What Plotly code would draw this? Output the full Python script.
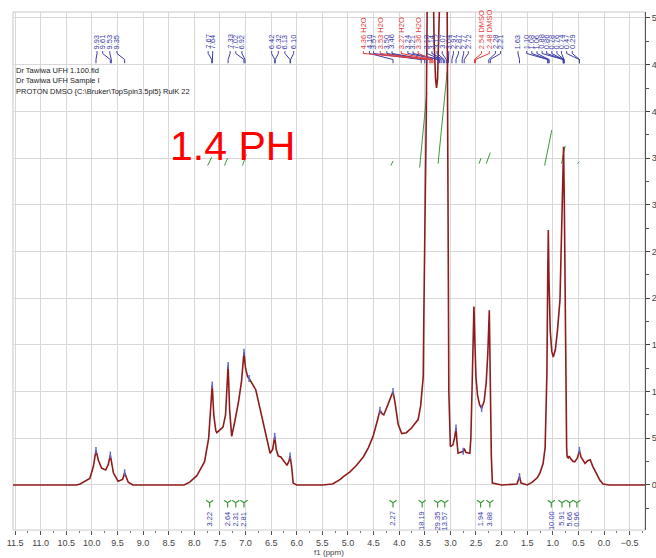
import plotly.graph_objects as go

# ---------------- data ----------------
ppm = [11.54, 10.30, 10.23, 10.10, 10.04, 9.97, 9.92, 9.87, 9.81, 9.73, 9.68, 9.64, 9.60, 9.58, 9.49, 9.40, 9.36, 9.32, 9.29, 9.20,
       8.20, 8.09, 7.95, 7.89, 7.80, 7.72, 7.68, 7.65, 7.62, 7.58, 7.56, 7.50, 7.44, 7.39, 7.36, 7.34, 7.31, 7.27, 7.22, 7.14,
       7.08, 7.05, 7.03, 7.00, 6.96, 6.93, 6.87, 6.80, 6.73, 6.65, 6.58, 6.52, 6.47, 6.43, 6.40, 6.36, 6.31, 6.27, 6.19, 6.15,
       6.13, 6.10, 6.07, 6.00, 5.50, 5.30, 5.15, 5.09, 4.96, 4.85, 4.70, 4.60, 4.51, 4.43, 4.375, 4.33, 4.30, 4.22, 4.15, 4.12,
       4.08, 4.02, 3.95, 3.86, 3.76, 3.68, 3.63, 3.58, 3.55, 3.53, 3.52, 3.50, 3.47, 3.44, 3.40, 3.36, 3.32, 3.29, 3.27, 3.25,
       3.22, 3.18, 3.10, 3.07, 3.05, 3.03, 3.00, 2.95, 2.92, 2.89, 2.87, 2.85, 2.80, 2.75, 2.73, 2.70, 2.62, 2.60, 2.58, 2.56,
       2.54, 2.52, 2.50, 2.47, 2.43, 2.39, 2.34, 2.30, 2.27, 2.24, 2.22, 2.20, 2.18, 2.00, 1.70, 1.65, 1.62, 1.50, 1.40, 1.30,
       1.25, 1.19, 1.15, 1.13, 1.115, 1.10, 1.088, 1.075, 1.05, 1.02, 0.99, 0.95, 0.91, 0.86, 0.83, 0.80, 0.79, 0.775, 0.76, 0.745,
       0.73, 0.72, 0.70, 0.68, 0.65, 0.60, 0.57, 0.52, 0.48, 0.45, 0.40, 0.37, 0.32, 0.27, 0.22, 0.15, 0.08, 0.02, -0.10, -0.80]
intensity = [0.0, 0.0, 0.1, 0.5, 0.7, 2.0, 3.7, 2.6, 1.8, 1.6, 2.2, 3.2, 2.0, 1.3, 0.4, 0.6, 1.3, 0.6, 0.3, 0.0,
             0.0, 0.3, 1.0, 1.6, 2.5, 5.0, 9.0, 10.7, 7.5, 5.8, 5.6, 5.9, 6.2, 7.5, 10.5, 12.8, 8.0, 5.2, 6.5, 8.8,
             11.0, 13.0, 14.2, 12.5, 11.6, 11.4, 10.8, 10.2, 8.5, 6.6, 4.8, 3.4, 3.8, 5.2, 3.8, 3.1, 3.0, 2.7, 2.1, 2.6,
             3.1, 2.0, 0.2, 0.0, 0.0, 0.1, 0.6, 0.9, 1.4, 2.0, 3.0, 4.0, 5.2, 6.8, 8.0, 7.6, 7.5, 8.6, 9.6, 10.0,
             8.8, 6.5, 5.5, 5.6, 6.1, 6.6, 7.0, 8.5, 10.5, 11.6, 17.3, 25.2, 40.0, 60.0, 70.0, 65.0, 48.0, 43.5, 42.5, 43.5,
             52.0, 70.0, 75.0, 60.0, 30.0, 10.0, 4.1, 4.3, 5.0, 6.1, 4.5, 3.4, 3.5, 3.6, 3.9, 3.5, 3.4, 5.0, 9.5, 14.0,
             19.1, 15.0, 11.5, 9.6, 8.6, 8.2, 9.0, 11.0, 14.0, 18.7, 10.0, 3.0, 0.2, 0.0, 0.1, 0.9, 0.2, 0.0, 0.3, 0.8,
             1.3, 2.3, 4.0, 8.0, 12.0, 22.0, 27.3, 22.0, 16.5, 14.3, 13.7, 14.5, 16.5, 19.8, 27.6, 34.5, 36.2, 30.0, 18.0, 8.0,
             4.0, 3.0, 2.9, 3.1, 2.8, 2.5, 2.5, 2.9, 3.7, 3.0, 2.6, 2.3, 2.6, 2.7, 2.0, 1.2, 0.5, 0.1, 0.0, 0.0]

# peak labels at the top: text, where the text sits (ppm), peak it points to (ppm), colour
top_text = ["9.93", "9.61", "9.53", "9.35",
            "7.67", "7.64", "7.33", "7.02", "6.92",
            "6.42", "6.32", "6.13", "6.10",
            "4.36 H2O", "4.10", "3.57", "3.53 H2O", "3.50", "3.46", "3.27 H2O", "3.24", "3.21", "3.36 H2O",
            "3.18", "3.14", "3.12", "3.07", "3.04", "2.97", "2.87", "2.77", "2.72",
            "2.54 DMSO", "2.48 DMSO", "2.28", "2.21", "1.63",
            "1.10", "1.08", "1.06", "0.88", "0.86", "0.78", "0.76", "0.74", "0.47", "0.29"]
top_pos = [9.90, 9.79, 9.65, 9.51,
           7.73, 7.64, 7.30, 7.19, 7.07,
           6.49, 6.36, 6.23, 6.06,
           4.70, 4.58, 4.50, 4.37, 4.24, 4.14, 3.96, 3.83, 3.73, 3.63,
           3.46, 3.36, 3.26, 3.16, 3.03, 2.94, 2.84, 2.74, 2.65,
           2.39, 2.24, 2.12, 2.02, 1.68,
           1.51, 1.41, 1.31, 1.21, 1.12, 1.02, 0.92, 0.83, 0.73, 0.62]
top_peak = [9.92, 9.64, 9.62, 9.36,
            7.66, 7.65, 7.34, 7.03, 7.01,
            6.43, 6.42, 6.13, 6.12,
            3.40, 4.12, 3.57, 3.38, 3.50, 3.46, 3.36, 3.24, 3.21, 3.34,
            3.18, 3.14, 3.12, 3.08, 3.04, 2.97, 2.89, 2.77, 2.73,
            2.53, 2.51, 2.25, 2.22, 1.65,
            1.10, 1.09, 1.07, 0.80, 0.79, 0.79, 0.78, 0.78, 0.48, 0.48]
top_red = [0, 0, 0, 0,
           0, 0, 0, 0, 0,
           0, 0, 0, 0,
           1, 0, 0, 1, 0, 0, 1, 0, 0, 1,
           0, 0, 0, 0, 0, 0, 0, 0, 0,
           1, 1, 0, 0, 0,
           0, 0, 0, 0, 0, 0, 0, 0, 0, 0]

# integrals (bottom values and regions)
int_value = ["3.22", "2.64", "2.31", "2.81", "2.27", "18.19", "29.35", "13.57", "1.94", "3.88", "10.00", "5.91", "5.66", "0.96"]
int_center = [7.70, 7.35, 7.19, 7.03, 4.12, 3.55, 3.25, 3.11, 2.41, 2.23, 1.03, 0.82, 0.67, 0.53]

# integral curves drawn above the spectrum: start/end ppm and start/end level
icurve_start = [7.74, 7.41, 7.06, 4.16, 3.60, 3.24, 2.44, 2.30, 1.16, 0.83, 0.52]
icurve_end = [7.66, 7.35, 6.98, 4.12, 3.46, 3.05, 2.40, 2.22, 1.02, 0.76, 0.48]
icurve_lo = [34.2, 34.2, 34.2, 34.2, 34.0, 34.4, 34.4, 34.4, 34.2, 34.4, 34.4]
icurve_hi = [35.1, 35.0, 35.4, 34.7, 42.0, 45.0, 35.0, 35.6, 38.0, 36.3, 34.6]

# small peak-pick markers on the curve
pick_ppm = [9.92, 9.64, 9.36, 7.65, 7.34, 7.03, 6.93, 6.43, 6.13, 4.12, 4.375, 2.89, 2.75, 2.39, 1.65, 0.48]
pick_int = [3.7, 3.2, 1.3, 10.7, 12.8, 14.2, 11.4, 5.2, 3.1, 10.0, 8.0, 6.1, 3.6, 8.2, 0.9, 3.7]

header_lines = ["Dr Tawiwa UFH 1.100.fid", "Dr Tawiwa UFH Sample I",
                "PROTON DMSO {C:\\Bruker\\TopSpin3.5pl5} RulK 22"]
big_label = "1.4 PH"

# ---------------- figure ----------------
X0, X1 = 11.54, -0.80
Y0, Y1 = -4.82, 50.64
BLUE = "#3b3ba8"
RED = "#e23b3b"
GREEN = "#3a9a3a"

fig = go.Figure()

# integral curves
ix, iy = [], []
for a, b, lo, hi in zip(icurve_start, icurve_end, icurve_lo, icurve_hi):
    ix += [a, b, None]
    iy += [lo, hi, None]
fig.add_trace(go.Scatter(x=ix, y=iy, mode="lines", line=dict(color=GREEN, width=1),
                         hoverinfo="skip", showlegend=False))

# spectrum
fig.add_trace(go.Scatter(x=ppm, y=intensity, mode="lines",
                         line=dict(color="#8e1c1c", width=1.6), hoverinfo="skip", showlegend=False))
fig.add_trace(go.Scatter(x=pick_ppm, y=pick_int, mode="markers",
                         marker=dict(symbol="line-ns", size=5, color="#5a6ad0",
                                     line=dict(color="#5a6ad0", width=1.5)),
                         hoverinfo="skip", showlegend=False))

# peak label connectors
Y_TXT, Y_STUB, Y_BEND, Y_END = 46.45, 46.2, 45.55, 45.15
for red in (0, 1):
    cx, cy = [], []
    for p, t, r in zip(top_pos, top_peak, top_red):
        if r != red:
            continue
        cx += [p, p, t, t, None]
        cy += [Y_TXT, Y_STUB, Y_BEND, Y_END, None]
    fig.add_trace(go.Scatter(x=cx, y=cy, mode="lines", line=dict(color=RED if red else BLUE, width=1),
                             hoverinfo="skip", showlegend=False, cliponaxis=False))

for txt, p, r in zip(top_text, top_pos, top_red):
    fig.add_annotation(x=p, y=Y_TXT, text=txt, textangle=-90, showarrow=False,
                       xanchor="center", yanchor="bottom",
                       font=dict(family="Liberation Sans Narrow, Liberation Sans", size=7.5,
                                 color=RED if r else BLUE))

# bottom integral marks and values
fig.add_trace(go.Scatter(x=int_center, y=[-1.9] * len(int_center), mode="markers",
                         marker=dict(symbol="y-down-open", size=6, color=GREEN,
                                     line=dict(color=GREEN, width=1.2)),
                         hoverinfo="skip", showlegend=False))
for v, c in zip(int_value, int_center):
    fig.add_annotation(x=c, y=-2.6, text=v, textangle=-90, showarrow=False,
                       xanchor="center", yanchor="top",
                       font=dict(family="Liberation Sans Narrow, Liberation Sans", size=7.5, color=BLUE))

# header text
for i, line in enumerate(header_lines):
    fig.add_annotation(xref="paper", yref="paper", x=0.002, y=0.888 - i * 0.0205, text=line,
                       showarrow=False, xanchor="left", yanchor="middle",
                       font=dict(family="Liberation Sans", size=7.5, color="#222222"))

fig.add_annotation(xref="paper", yref="paper", x=0.348, y=0.741, text=big_label, showarrow=False,
                   xanchor="center", yanchor="middle",
                   font=dict(family="Liberation Sans, Arial", size=41, color="#ff0000"))

# frame
fig.add_shape(type="rect", xref="paper", yref="paper", x0=0, x1=1, y0=0, y1=1,
              line=dict(color="#c8c8c8", width=1), layer="below")

fig.update_layout(
    width=656, height=558,
    margin=dict(l=13, r=11, t=12, b=28),
    paper_bgcolor="white", plot_bgcolor="white",
    showlegend=False,
    xaxis=dict(range=[X0, X1], tick0=0, dtick=0.5, tickformat=".1f",
               showgrid=True, gridcolor="#d8d8d8", gridwidth=1, zeroline=False,
               ticks="outside", ticklen=4, tickcolor="#555555", showline=False,
               minor=dict(dtick=0.25, ticks="outside", ticklen=2, tickcolor="#777777", showgrid=False),
               tickfont=dict(family="Liberation Sans Narrow, Liberation Sans", size=9, color="#444444"),
               title=dict(text="f1 (ppm)", standoff=0,
                          font=dict(family="Liberation Sans Narrow, Liberation Sans", size=8, color="#444444"))),
    yaxis=dict(range=[Y0, Y1], side="right", tick0=0, dtick=5,
               showgrid=True, gridcolor="#d8d8d8", gridwidth=1, zeroline=False,
               ticks="outside", ticklen=4, tickcolor="#444444", showline=True, linecolor="#555555",
               minor=dict(dtick=2.5, ticks="outside", ticklen=3, tickcolor="#555555", showgrid=False),
               tickfont=dict(family="Liberation Sans Narrow, Liberation Sans", size=9, color="#444444"),
               automargin=False),
)
fig.update_xaxes(automargin=False)

fig.write_html("out.html")
